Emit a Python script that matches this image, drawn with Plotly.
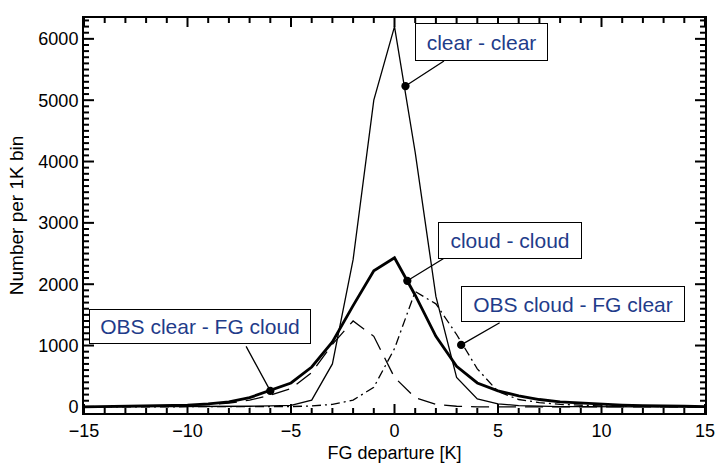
import plotly.graph_objects as go

# FG departure bins [K]
fg_departure = list(range(-15, 16))

clear_clear = [0, 0, 0, 0, 0, 0, 0, 5, 10, 15, 25, 110, 700, 2400, 5000, 6200,
               4150, 1800, 480, 130, 50, 20, 10, 5, 5, 0, 0, 0, 0, 0, 0]
cloud_cloud = [0, 5, 10, 15, 20, 30, 50, 80, 150, 270, 390, 650, 1060, 1650, 2220, 2430,
               1820, 1150, 660, 390, 260, 180, 120, 80, 60, 45, 30, 20, 20, 10, 5]
obs_clear_fg_cloud = [0, 0, 5, 10, 15, 20, 35, 60, 110, 190, 300, 560, 1020, 1400, 1150, 480,
                      150, 40, 10, 0, 0, 0, 0, 0, 0, 0, 0, 0, 0, 0, 0]
obs_cloud_fg_clear = [0, 0, 0, 0, 0, 0, 0, 0, 0, 0, 5, 15, 40, 110, 320, 950,
                      1880, 1680, 1180, 620, 250, 120, 70, 40, 25, 15, 10, 5, 5, 0, 0]

labels = ["clear - clear", "cloud - cloud", "OBS cloud - FG clear", "OBS clear - FG cloud"]

# axis settings
X_RANGE = [-15, 15]
Y_RANGE = [-100, 6340]
x_major = list(range(-15, 16, 5))
x_minor = [v for v in range(-15, 16) if v % 5 != 0]
y_major = list(range(0, 6001, 1000))
y_minor = [v for v in range(0, 6301, 100) if v % 1000 != 0]

W, H = 716, 463
M = dict(l=84, r=11, t=18, b=50)
plot_w = W - M["l"] - M["r"]
plot_h = H - M["t"] - M["b"]

FONT = "Liberation Sans, Arial, Helvetica, sans-serif"
TXT = "#1f3c8a"

fig = go.Figure()
fig.add_trace(go.Scatter(x=fg_departure, y=clear_clear, mode="lines",
                         line=dict(color="black", width=1.3), name=labels[0]))
fig.add_trace(go.Scatter(x=fg_departure, y=cloud_cloud, mode="lines",
                         line=dict(color="black", width=2.8), name=labels[1]))
fig.add_trace(go.Scatter(x=fg_departure, y=obs_clear_fg_cloud, mode="lines",
                         line=dict(color="black", width=1.3, dash="18px,9px"), name=labels[3]))
fig.add_trace(go.Scatter(x=fg_departure, y=obs_cloud_fg_clear, mode="lines",
                         line=dict(color="black", width=1.3, dash="9px,4px,2px,4px"), name=labels[2]))

# inward-pointing frame ticks on all four sides, as layout shapes built from the tick lists
tick_line = dict(color="black", width=2)
for vals, length in [(x_major, 9), (x_minor, 5)]:
    f = length / plot_h
    for v in vals:
        fig.add_shape(type="line", xref="x", yref="paper", x0=v, x1=v, y0=0, y1=f,
                      line=tick_line, layer="above")
        fig.add_shape(type="line", xref="x", yref="paper", x0=v, x1=v, y0=1, y1=1 - f,
                      line=tick_line, layer="above")
for vals, length in [(y_major, 10), (y_minor, 5)]:
    f = length / plot_w
    for v in vals:
        fig.add_shape(type="line", xref="paper", yref="y", x0=0, x1=f, y0=v, y1=v,
                      line=tick_line, layer="above")
        fig.add_shape(type="line", xref="paper", yref="y", x0=1, x1=1 - f, y0=v, y1=v,
                      line=tick_line, layer="above")

# (label, point x, point y, tail dx, tail dy, box x, box y, box w, box h)
ann_specs = [
    (labels[0], 0.53, 5230, 40, -26, 4.18, 5950, 133, 38),
    (labels[1], 0.62, 2055, 39, -24, 5.58, 2720, 144, 37),
    (labels[2], 3.22, 1010, 40, -23, 8.6, 1680, 224, 36),
    (labels[3], -6.0, 260, -25, -46, -9.42, 1310, 222, 35),
]
for text, px, py, dx, dy, bx, by, bw, bh in ann_specs:
    fig.add_annotation(x=px, y=py, xref="x", yref="y", text="", showarrow=True,
                       ax=dx, ay=dy, arrowhead=6, arrowsize=1.6, arrowwidth=1.3,
                       arrowcolor="black", standoff=0)
    fig.add_annotation(x=bx, y=by, xref="x", yref="y", text=text, showarrow=False,
                       font=dict(family=FONT, size=21, color=TXT),
                       bgcolor="white", bordercolor="black", borderwidth=1,
                       borderpad=0, width=bw - 2, height=bh - 2,
                       xanchor="center", yanchor="middle")

tickfont = dict(family=FONT, size=18, color="black")

fig.update_layout(
    xaxis=dict(range=X_RANGE, tickmode="array", tickvals=x_major,
               showgrid=False, zeroline=False, showline=True, linewidth=2,
               linecolor="black", mirror=True, ticks="",
               showticklabels=True, tickfont=tickfont, automargin=False,
               ticklabeloverflow="allow",
               title=dict(text="FG departure [K]", font=dict(family=FONT, size=18, color="black"),
                          standoff=8)),
    yaxis=dict(range=Y_RANGE, tickmode="array", tickvals=y_major,
               showgrid=False, zeroline=False, showline=True, linewidth=2,
               linecolor="black", mirror=True, ticks="",
               showticklabels=True, tickfont=tickfont, automargin=False,
               title=dict(text="Number per 1K bin", font=dict(family=FONT, size=19, color="black"),
                          standoff=10)),
    width=W, height=H, showlegend=False,
    margin=M,
    paper_bgcolor="white", plot_bgcolor="white")

fig.write_html("out.html")
